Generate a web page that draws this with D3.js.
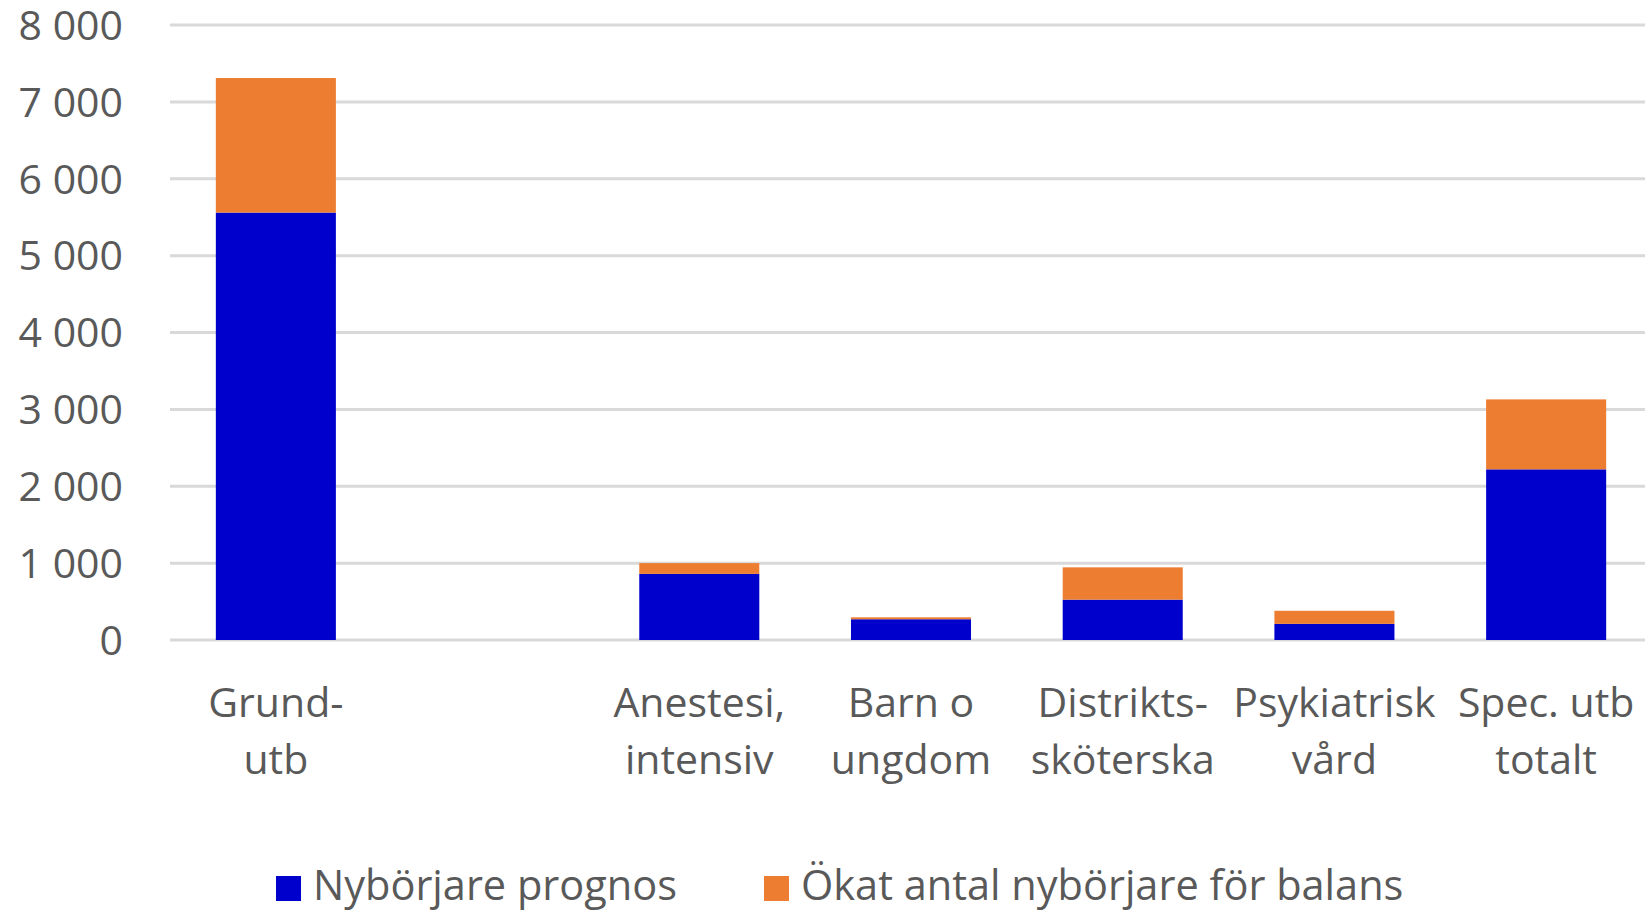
<!DOCTYPE html>
<html>
<head>
<meta charset="utf-8">
<script src="https://cdn.jsdelivr.net/npm/d3@7"></script>
<style>
  html, body { margin: 0; padding: 0; background: #fff; }
  svg { display: block; font-family: "Open Sans", sans-serif; }
</style>
</head>
<body>
<svg id="chart" width="1645" height="913"></svg>
<script>
// Data
const categories = [
  ['Grund-', 'utb'],
  [],
  ['Anestesi,', 'intensiv'],
  ['Barn o', 'ungdom'],
  ['Distrikts-', 'sköterska'],
  ['Psykiatrisk', 'vård'],
  ['Spec. utb', 'totalt']
];
const prognos = [5560, 0, 860, 270, 525, 210, 2220];
const balans  = [1750, 0, 140,  25, 420, 170,  910];
const seriesNames = ['Nybörjare prognos', 'Ökat antal nybörjare för balans'];
const seriesColors = ['#0000cc', '#ed7d31'];
const yTicks = [0, 1000, 2000, 3000, 4000, 5000, 6000, 7000, 8000];

const svg = d3.select('#chart');
const width = +svg.attr('width');

const rows = categories.map((c, i) => ({ idx: i, lines: c, prognos: prognos[i], balans: balans[i] }));
const stack = d3.stack().keys(['prognos', 'balans'])(rows);

const x = d3.scaleBand().domain(d3.range(categories.length)).range([170, 1652]).paddingInner(0.433).paddingOuter(0.2165);
const y = d3.scaleLinear().domain([0, 8000]).range([640, 25]);

const fmt = d3.formatLocale({ decimal: ',', thousands: '\u00a0', grouping: [3], currency: ['', ''] }).format(',');

// Gridlines
svg.append('g')
  .selectAll('line')
  .data(yTicks)
  .join('line')
  .attr('x1', 170)
  .attr('x2', width)
  .attr('y1', d => y(d))
  .attr('y2', d => y(d))
  .attr('stroke', '#d9d9d9')
  .attr('stroke-width', 3);

// Y axis labels
svg.append('g')
  .selectAll('text')
  .data(yTicks)
  .join('text')
  .attr('x', 123)
  .attr('y', d => y(d))
  .attr('dy', '0.36em')
  .attr('text-anchor', 'end')
  .attr('fill', '#595959')
  .attr('font-size', 41)
  .text(d => fmt(d));

// Bars
svg.append('g')
  .selectAll('g')
  .data(stack)
  .join('g')
  .attr('fill', (d, i) => seriesColors[i])
  .selectAll('rect')
  .data(d => d.filter(s => s[1] > s[0]))
  .join('rect')
  .attr('x', d => x(d.data.idx))
  .attr('width', x.bandwidth())
  .attr('y', d => y(d[1]))
  .attr('height', d => y(d[0]) - y(d[1]));

// Category labels
const lab = svg.append('g')
  .selectAll('text')
  .data(rows)
  .join('text')
  .attr('text-anchor', 'middle')
  .attr('fill', '#595959')
  .attr('font-size', 41);
lab.selectAll('tspan')
  .data(d => d.lines.map(l => ({ l, cx: x(d.idx) + x.bandwidth() / 2 })))
  .join('tspan')
  .attr('x', d => d.cx)
  .attr('y', (d, i) => 717 + i * 57)
  .text(d => d.l);

// Legend
const legendX = [276, 764];
const leg = svg.append('g')
  .selectAll('g')
  .data(seriesNames)
  .join('g')
  .attr('transform', (d, i) => `translate(${legendX[i]},876)`);
leg.append('rect')
  .attr('width', 25)
  .attr('height', 25)
  .attr('fill', (d, i) => seriesColors[i]);
leg.append('text')
  .attr('x', 37)
  .attr('y', 24)
  .attr('fill', '#595959')
  .attr('font-size', 41.5)
  .text(d => d);
</script>
</body>
</html>
